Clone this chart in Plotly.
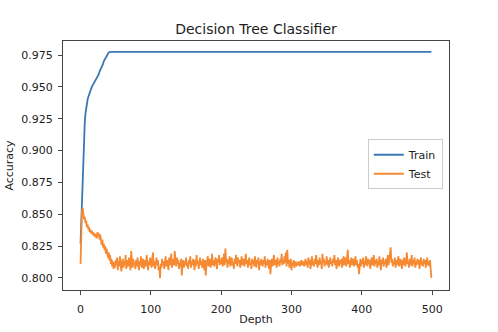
import plotly.graph_objects as go

# Tree depth values (0..499)
depth = list(range(500))

# Training accuracy per depth: fast rise, then flat once the tree is fully grown
train_acc = [
    0.827, 0.846, 0.866, 0.884, 0.900, 0.912, 0.922, 0.929, 0.934, 0.937,
    0.940, 0.942, 0.944, 0.945, 0.947, 0.948, 0.950, 0.951, 0.952, 0.953,
    0.954, 0.955, 0.955, 0.956, 0.958, 0.959, 0.960, 0.962, 0.963, 0.964,
    0.966, 0.967, 0.968, 0.970, 0.971, 0.972, 0.974, 0.975, 0.976, 0.9765,
    0.977, 0.9772, 0.9774, 0.9775, 0.9775, 0.9775, 0.9775, 0.9775, 0.9775, 0.9775,
] + [
    0.9775, 0.9775, 0.9775, 0.9775, 0.9775, 0.9775, 0.9775, 0.9775, 0.9775, 0.9775,
    0.9775, 0.9775, 0.9775, 0.9775, 0.9775, 0.9775, 0.9775, 0.9775, 0.9775, 0.9775,
    0.9775, 0.9775, 0.9775, 0.9775, 0.9775, 0.9775, 0.9775, 0.9775, 0.9775, 0.9775,
    0.9775, 0.9775, 0.9775, 0.9775, 0.9775, 0.9775, 0.9775, 0.9775, 0.9775, 0.9775,
    0.9775, 0.9775, 0.9775, 0.9775, 0.9775, 0.9775, 0.9775, 0.9775, 0.9775, 0.9775,
    0.9775, 0.9775, 0.9775, 0.9775, 0.9775, 0.9775, 0.9775, 0.9775, 0.9775, 0.9775,
    0.9775, 0.9775, 0.9775, 0.9775, 0.9775, 0.9775, 0.9775, 0.9775, 0.9775, 0.9775,
    0.9775, 0.9775, 0.9775, 0.9775, 0.9775, 0.9775, 0.9775, 0.9775, 0.9775, 0.9775,
    0.9775, 0.9775, 0.9775, 0.9775, 0.9775, 0.9775, 0.9775, 0.9775, 0.9775, 0.9775,
    0.9775, 0.9775, 0.9775, 0.9775, 0.9775, 0.9775, 0.9775, 0.9775, 0.9775, 0.9775,
    0.9775, 0.9775, 0.9775, 0.9775, 0.9775, 0.9775, 0.9775, 0.9775, 0.9775, 0.9775,
    0.9775, 0.9775, 0.9775, 0.9775, 0.9775, 0.9775, 0.9775, 0.9775, 0.9775, 0.9775,
    0.9775, 0.9775, 0.9775, 0.9775, 0.9775, 0.9775, 0.9775, 0.9775, 0.9775, 0.9775,
    0.9775, 0.9775, 0.9775, 0.9775, 0.9775, 0.9775, 0.9775, 0.9775, 0.9775, 0.9775,
    0.9775, 0.9775, 0.9775, 0.9775, 0.9775, 0.9775, 0.9775, 0.9775, 0.9775, 0.9775,
    0.9775, 0.9775, 0.9775, 0.9775, 0.9775, 0.9775, 0.9775, 0.9775, 0.9775, 0.9775,
    0.9775, 0.9775, 0.9775, 0.9775, 0.9775, 0.9775, 0.9775, 0.9775, 0.9775, 0.9775,
    0.9775, 0.9775, 0.9775, 0.9775, 0.9775, 0.9775, 0.9775, 0.9775, 0.9775, 0.9775,
    0.9775, 0.9775, 0.9775, 0.9775, 0.9775, 0.9775, 0.9775, 0.9775, 0.9775, 0.9775,
    0.9775, 0.9775, 0.9775, 0.9775, 0.9775, 0.9775, 0.9775, 0.9775, 0.9775, 0.9775,
    0.9775, 0.9775, 0.9775, 0.9775, 0.9775, 0.9775, 0.9775, 0.9775, 0.9775, 0.9775,
    0.9775, 0.9775, 0.9775, 0.9775, 0.9775, 0.9775, 0.9775, 0.9775, 0.9775, 0.9775,
    0.9775, 0.9775, 0.9775, 0.9775, 0.9775, 0.9775, 0.9775, 0.9775, 0.9775, 0.9775,
    0.9775, 0.9775, 0.9775, 0.9775, 0.9775, 0.9775, 0.9775, 0.9775, 0.9775, 0.9775,
    0.9775, 0.9775, 0.9775, 0.9775, 0.9775, 0.9775, 0.9775, 0.9775, 0.9775, 0.9775,
    0.9775, 0.9775, 0.9775, 0.9775, 0.9775, 0.9775, 0.9775, 0.9775, 0.9775, 0.9775,
    0.9775, 0.9775, 0.9775, 0.9775, 0.9775, 0.9775, 0.9775, 0.9775, 0.9775, 0.9775,
    0.9775, 0.9775, 0.9775, 0.9775, 0.9775, 0.9775, 0.9775, 0.9775, 0.9775, 0.9775,
    0.9775, 0.9775, 0.9775, 0.9775, 0.9775, 0.9775, 0.9775, 0.9775, 0.9775, 0.9775,
    0.9775, 0.9775, 0.9775, 0.9775, 0.9775, 0.9775, 0.9775, 0.9775, 0.9775, 0.9775,
    0.9775, 0.9775, 0.9775, 0.9775, 0.9775, 0.9775, 0.9775, 0.9775, 0.9775, 0.9775,
    0.9775, 0.9775, 0.9775, 0.9775, 0.9775, 0.9775, 0.9775, 0.9775, 0.9775, 0.9775,
    0.9775, 0.9775, 0.9775, 0.9775, 0.9775, 0.9775, 0.9775, 0.9775, 0.9775, 0.9775,
    0.9775, 0.9775, 0.9775, 0.9775, 0.9775, 0.9775, 0.9775, 0.9775, 0.9775, 0.9775,
    0.9775, 0.9775, 0.9775, 0.9775, 0.9775, 0.9775, 0.9775, 0.9775, 0.9775, 0.9775,
    0.9775, 0.9775, 0.9775, 0.9775, 0.9775, 0.9775, 0.9775, 0.9775, 0.9775, 0.9775,
    0.9775, 0.9775, 0.9775, 0.9775, 0.9775, 0.9775, 0.9775, 0.9775, 0.9775, 0.9775,
    0.9775, 0.9775, 0.9775, 0.9775, 0.9775, 0.9775, 0.9775, 0.9775, 0.9775, 0.9775,
    0.9775, 0.9775, 0.9775, 0.9775, 0.9775, 0.9775, 0.9775, 0.9775, 0.9775, 0.9775,
    0.9775, 0.9775, 0.9775, 0.9775, 0.9775, 0.9775, 0.9775, 0.9775, 0.9775, 0.9775,
    0.9775, 0.9775, 0.9775, 0.9775, 0.9775, 0.9775, 0.9775, 0.9775, 0.9775, 0.9775,
    0.9775, 0.9775, 0.9775, 0.9775, 0.9775, 0.9775, 0.9775, 0.9775, 0.9775, 0.9775,
    0.9775, 0.9775, 0.9775, 0.9775, 0.9775, 0.9775, 0.9775, 0.9775, 0.9775, 0.9775,
    0.9775, 0.9775, 0.9775, 0.9775, 0.9775, 0.9775, 0.9775, 0.9775, 0.9775, 0.9775,
    0.9775, 0.9775, 0.9775, 0.9775, 0.9775, 0.9775, 0.9775, 0.9775, 0.9775, 0.9775,
]

# Test accuracy per depth: early peak, then noisy plateau around 0.81
test_acc = [
    0.811, 0.836, 0.852, 0.855, 0.851, 0.846, 0.848, 0.843, 0.845, 0.840,
    0.842, 0.838, 0.840, 0.836, 0.838, 0.835, 0.837, 0.834, 0.836, 0.833,
    0.835, 0.832, 0.834, 0.831, 0.836, 0.833, 0.835, 0.830, 0.834, 0.829,
    0.826, 0.830, 0.824, 0.827, 0.822, 0.825, 0.819, 0.823, 0.818, 0.816,
    0.820, 0.814, 0.818, 0.811, 0.815, 0.809, 0.813, 0.807, 0.812, 0.808,
    0.814, 0.810, 0.816, 0.806, 0.813, 0.809, 0.817, 0.811, 0.805, 0.812,
    0.815, 0.808, 0.813, 0.810, 0.818, 0.807, 0.812, 0.814, 0.809, 0.816,
    0.811, 0.806, 0.821, 0.813, 0.808, 0.815, 0.810, 0.812, 0.807, 0.814,
    0.809, 0.816, 0.811, 0.806, 0.813, 0.810, 0.817, 0.808, 0.812, 0.815,
    0.807, 0.811, 0.814, 0.809, 0.818, 0.812, 0.806, 0.813, 0.810, 0.816,
    0.811, 0.808, 0.815, 0.820, 0.809, 0.813, 0.807, 0.812, 0.816, 0.810,
    0.814, 0.806, 0.809, 0.800, 0.811, 0.808, 0.815, 0.810, 0.813, 0.807,
    0.812, 0.817, 0.809, 0.814, 0.811, 0.806, 0.816, 0.810, 0.813, 0.819,
    0.808, 0.812, 0.815, 0.810, 0.821, 0.813, 0.809, 0.816, 0.811, 0.814,
    0.807, 0.812, 0.809, 0.815, 0.802, 0.811, 0.814, 0.808, 0.813, 0.810,
    0.816, 0.809, 0.812, 0.807, 0.814, 0.811, 0.817, 0.808, 0.813, 0.810,
    0.815, 0.812, 0.806, 0.814, 0.809, 0.818, 0.811, 0.813, 0.807, 0.812,
    0.816, 0.810, 0.813, 0.808, 0.815, 0.811, 0.806, 0.814, 0.802, 0.810,
    0.813, 0.817, 0.809, 0.812, 0.815, 0.808, 0.811, 0.819, 0.810, 0.814,
    0.809, 0.813, 0.816, 0.811, 0.807, 0.815, 0.812, 0.818, 0.810, 0.814,
    0.811, 0.816, 0.809, 0.813, 0.819, 0.810, 0.823, 0.812, 0.815, 0.808,
    0.814, 0.811, 0.817, 0.809, 0.813, 0.816, 0.810, 0.812, 0.807, 0.815,
    0.811, 0.818, 0.813, 0.809, 0.816, 0.812, 0.814, 0.808, 0.811, 0.817,
    0.810, 0.813, 0.815, 0.809, 0.812, 0.819, 0.811, 0.814, 0.808, 0.813,
    0.816, 0.810, 0.812, 0.807, 0.815, 0.811, 0.814, 0.809, 0.817, 0.812,
    0.808, 0.814, 0.811, 0.816, 0.806, 0.813, 0.810, 0.815, 0.812, 0.809,
    0.814, 0.811, 0.817, 0.808, 0.813, 0.810, 0.815, 0.812, 0.807, 0.814,
    0.803, 0.811, 0.815, 0.809, 0.813, 0.818, 0.810, 0.814, 0.812, 0.808,
    0.816, 0.811, 0.813, 0.809, 0.815, 0.812, 0.819, 0.810, 0.814, 0.811,
    0.817, 0.812, 0.820, 0.809, 0.822, 0.811, 0.814, 0.808, 0.813, 0.815,
    0.806, 0.812, 0.810, 0.814, 0.808, 0.811, 0.813, 0.809, 0.812, 0.810,
    0.813, 0.811, 0.809, 0.812, 0.814, 0.810, 0.811, 0.813, 0.809, 0.812,
    0.815, 0.810, 0.813, 0.808, 0.816, 0.811, 0.814, 0.807, 0.812, 0.817,
    0.810, 0.813, 0.809, 0.815, 0.811, 0.818, 0.812, 0.808, 0.814, 0.810,
    0.816, 0.811, 0.813, 0.807, 0.819, 0.812, 0.815, 0.809, 0.813, 0.811,
    0.817, 0.810, 0.814, 0.808, 0.812, 0.816, 0.811, 0.813, 0.809, 0.815,
    0.812, 0.818, 0.810, 0.814, 0.807, 0.813, 0.816, 0.811, 0.809, 0.814,
    0.811, 0.815, 0.808, 0.813, 0.817, 0.810, 0.812, 0.816, 0.809, 0.819,
    0.822, 0.811, 0.814, 0.808, 0.813, 0.816, 0.810, 0.812, 0.815, 0.809,
    0.813, 0.817, 0.810, 0.814, 0.808, 0.811, 0.803, 0.812, 0.815, 0.809,
    0.814, 0.811, 0.816, 0.808, 0.813, 0.810, 0.817, 0.812, 0.809, 0.815,
    0.811, 0.814, 0.807, 0.813, 0.816, 0.810, 0.812, 0.818, 0.809, 0.814,
    0.811, 0.815, 0.808, 0.813, 0.810, 0.817, 0.812, 0.806, 0.814, 0.811,
    0.816, 0.809, 0.813, 0.811, 0.815, 0.808, 0.812, 0.818, 0.810, 0.814,
    0.819, 0.824, 0.812, 0.815, 0.809, 0.813, 0.811, 0.816, 0.808, 0.814,
    0.810, 0.813, 0.817, 0.809, 0.812, 0.815, 0.811, 0.807, 0.814, 0.810,
    0.816, 0.812, 0.809, 0.814, 0.820, 0.811, 0.813, 0.808, 0.815, 0.810,
    0.812, 0.818, 0.809, 0.814, 0.811, 0.816, 0.808, 0.813, 0.810, 0.815,
    0.811, 0.814, 0.807, 0.812, 0.816, 0.810, 0.813, 0.809, 0.815, 0.811,
    0.814, 0.808, 0.812, 0.816, 0.810, 0.813, 0.809, 0.814, 0.806, 0.800,
]

y_ticks = [0.800, 0.825, 0.850, 0.875, 0.900, 0.925, 0.950, 0.975]
x_ticks = [0, 100, 200, 300, 400, 500]

FONT = "DejaVu Sans"
TEXT = "#222222"
FRAME = "#444444"

fig = go.Figure()
fig.add_trace(go.Scatter(x=depth, y=train_acc, mode="lines", name="Train",
                         line=dict(color="#3b78b3", width=1.8)))
fig.add_trace(go.Scatter(x=depth, y=test_acc, mode="lines", name="Test",
                         line=dict(color="#f58a33", width=1.8)))

axis_common = dict(
    showline=True, linecolor=FRAME, linewidth=1, mirror=True,
    showgrid=False, zeroline=False, automargin=False,
    ticks="outside", ticklen=4, tickwidth=1, tickcolor=FRAME,
    tickfont=dict(family=FONT, size=11, color=TEXT),
)

fig.update_layout(
    width=498, height=332,
    margin=dict(l=63, r=49, t=41, b=42),
    paper_bgcolor="white", plot_bgcolor="white",
    font=dict(family=FONT, size=11, color=TEXT),
    title=dict(text="Decision Tree Classifier", x=0.5, xref="paper",
               y=1, yref="paper", yanchor="bottom", pad=dict(b=7),
               font=dict(family=FONT, size=14, color=TEXT)),
    xaxis=dict(range=[-24.95, 523.95], tickvals=x_ticks,
               ticklabelstandoff=5,
               title=dict(text="Depth", standoff=0,
                          font=dict(family=FONT, size=11, color=TEXT)),
               **axis_common),
    yaxis=dict(range=[0.7905, 0.9860], tickvals=y_ticks, tickformat=".3f",
               ticklabelstandoff=3,
               title=dict(text="Accuracy", standoff=5,
                          font=dict(family=FONT, size=11, color=TEXT)),
               **axis_common),
    legend=dict(x=0.984, xanchor="right", y=0.505, yanchor="middle",
                bgcolor="rgba(255,255,255,0.8)", bordercolor="#cccccc",
                borderwidth=1, font=dict(family=FONT, size=11, color=TEXT),
                itemwidth=30, tracegroupgap=0),
    showlegend=True,
)

fig.write_html("out.html")
